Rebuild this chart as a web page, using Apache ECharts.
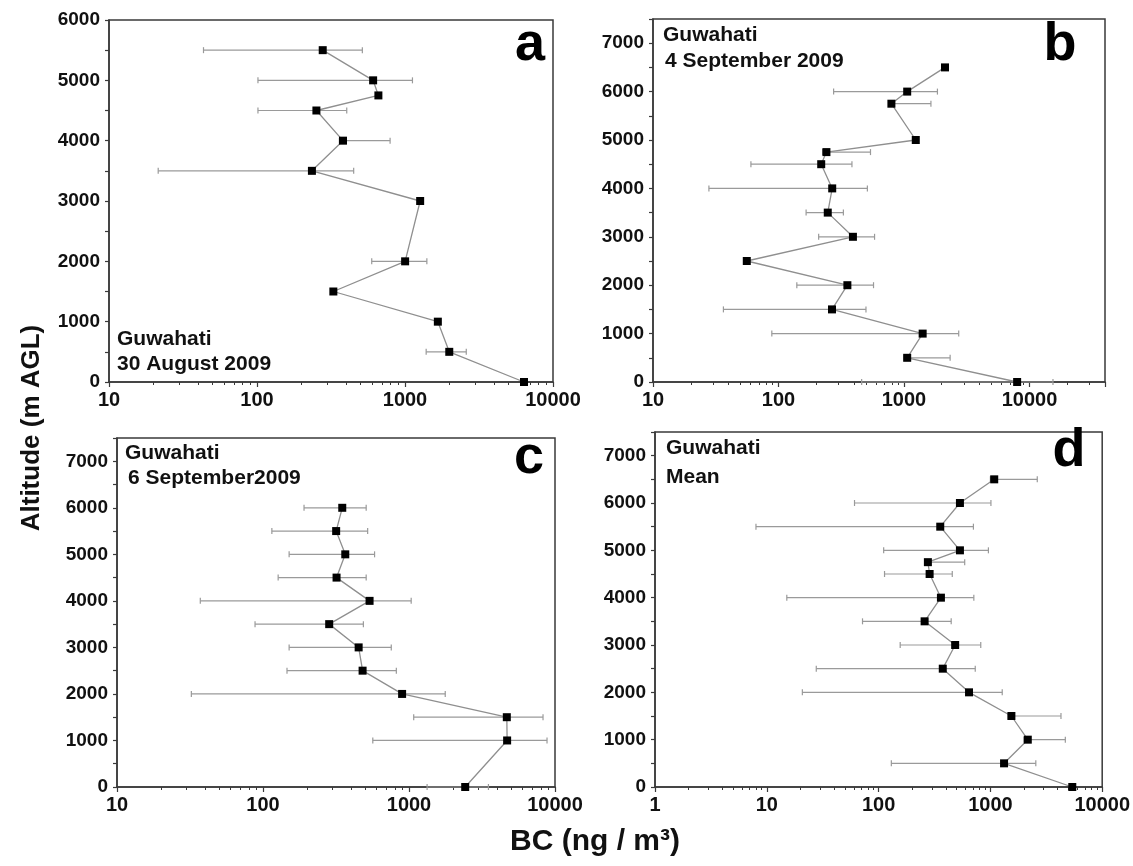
<!DOCTYPE html>
<html>
<head>
<meta charset="utf-8">
<title>Guwahati BC profiles</title>
<script src="https://cdn.jsdelivr.net/npm/echarts@6/dist/echarts.min.js"></script>
<style>
  html, body { margin: 0; padding: 0; background: #fff; }
  #main { width: 1133px; height: 866px; }
</style>
</head>
<body>
<div id="main"></div>
<script>
// panel a - 30 August 2009
var altA = [0, 500, 1000, 1500, 2000, 3000, 3500, 4000, 4500, 4750, 5000, 5500];
var bcA = [6368, 1991, 1667, 328, 1002, 1266, 235, 381, 252, 661, 609, 278];
var errAltA = [500, 2000, 3500, 4000, 4500, 5000, 5500];
var errLoA = [1390, 596, 21.5, 360, 101.5, 101.5, 43.5];
var errHiA = [2594, 1405, 450, 793, 404, 1123, 515];

// panel b - 4 September 2009
var altB = [0, 500, 1000, 1500, 2000, 2500, 3000, 3500, 4000, 4500, 4750, 5000, 5750, 6000, 6500];
var bcB = [7977, 1061, 1409, 267, 354, 55.9, 392, 247, 268, 219, 241, 1242, 794, 1061, 2123];
var errAltB = [0, 500, 1000, 1500, 2000, 3000, 3500, 4000, 4500, 4750, 5750, 6000];
var errLoB = [460, 1000, 88.5, 36.4, 140, 209, 166, 27.9, 60.3, 225, 760, 275];
var errHiB = [15400, 2333, 2731, 498, 572, 583, 329, 511, 385, 541, 1640, 1848];

// panel c - 6 September 2009
var altC = [0, 1000, 1500, 2000, 2500, 3000, 3500, 4000, 4500, 5000, 5500, 6000];
var bcC = [2426, 4700, 4677, 897, 481, 452, 284, 537, 319, 366, 317, 349];
var errAltC = [0, 1000, 1500, 2000, 2500, 3000, 3500, 4000, 4500, 5000, 5500, 6000];
var errLoC = [1330, 565, 1077, 32.3, 146, 151, 88.2, 37.2, 127, 151, 115, 191];
var errHiC = [3500, 8818, 8279, 1771, 819, 756, 487, 1035, 509, 581, 521, 509];

// panel d - mean
var altD = [0, 500, 1000, 1500, 2000, 2500, 3000, 3500, 4000, 4500, 4750, 5000, 5500, 6000, 6500];
var bcD = [5400, 1325, 2160, 1541, 644, 375, 484, 258, 361, 286, 276, 534, 356, 534, 1082];
var errAltD = [500, 1000, 1500, 2000, 2500, 3000, 3500, 4000, 4500, 4750, 5000, 5500, 6000, 6500];
var errLoD = [130, 2000, 1450, 20.8, 27.7, 156, 71.8, 15.1, 113, 260, 111, 8.0, 60.9, 1000];
var errHiD = [2548, 4680, 4279, 1276, 732, 820, 446, 711, 456, 589, 960, 705, 1011, 2626];

// axis ranges
var xMinA = 10, xMaxA = 10000, yMaxA = 6000;
var xMinB = 10, xMaxB = 40000, yMaxB = 7500;
var xMinC = 10, xMaxC = 10000, yMaxC = 7500;
var xMinD = 1, xMaxD = 10000, yMaxD = 7500;

var FONT = '"Liberation Sans", Arial, sans-serif';
var AXIS_COLOR = '#3a3a3a';

var chart = echarts.init(document.getElementById('main'), null, { renderer: 'canvas' });

function makeGrid(left, top, width, height) {
  return {
    left: left, top: top, width: width, height: height,
    show: true, borderColor: AXIS_COLOR, borderWidth: 1.5,
    containLabel: false
  };
}

function makeXAxis(idx, min, max) {
  return {
    type: 'log', logBase: 10, gridIndex: idx, min: min, max: max,
    axisLine: { show: true, lineStyle: { color: AXIS_COLOR, width: 1.5 } },
    axisTick: { show: true, length: 5, lineStyle: { color: AXIS_COLOR, width: 1.2 } },
    minorTick: { show: true, splitNumber: 9, length: 3, lineStyle: { color: AXIS_COLOR, width: 1 } },
    axisLabel: {
      fontSize: 20, fontWeight: 'bold', color: '#111', fontFamily: FONT, margin: 8,
      showMaxLabel: max === 40000 ? false : true,
      // no thousands separator, as in the original
      formatter: function (v) { return String(Math.round(v)); }
    },
    splitLine: { show: false }
  };
}

function makeYAxis(idx, max) {
  return {
    type: 'value', gridIndex: idx, min: 0, max: max, interval: 500,
    axisLine: { show: true, lineStyle: { color: AXIS_COLOR, width: 1.5 } },
    axisTick: { show: true, length: 4, interval: 0, lineStyle: { color: AXIS_COLOR, width: 1.2 } },
    axisLabel: {
      interval: 0, fontSize: 19, fontWeight: 'bold', color: '#111', fontFamily: FONT, margin: 9,
      formatter: function (v) { return v % 1000 === 0 ? String(v) : ''; }
    },
    splitLine: { show: false }
  };
}

// profile line with square markers
function makeLine(idx, bc, alt) {
  var pts = [];
  for (var i = 0; i < bc.length; i++) pts.push([bc[i], alt[i]]);
  return {
    type: 'line', xAxisIndex: idx, yAxisIndex: idx, data: pts,
    symbol: 'rect', symbolSize: 8, showSymbol: true,
    itemStyle: { color: '#000' },
    lineStyle: { color: '#8f8f8f', width: 1.3 },
    z: 3, silent: true, animation: false
  };
}

// horizontal error bars (custom series)
function makeErr(idx, alt, lo, hi) {
  var rows = [];
  for (var i = 0; i < alt.length; i++) rows.push([alt[i], lo[i], hi[i]]);
  return {
    type: 'custom', xAxisIndex: idx, yAxisIndex: idx, data: rows,
    encode: { x: [1, 2], y: 0 },
    z: 2, silent: true, animation: false,
    renderItem: function (params, api) {
      var y = api.value(0);
      var p1 = api.coord([api.value(1), y]);
      var p2 = api.coord([api.value(2), y]);
      var cap = 3;
      var st = { stroke: '#9a9a9a', lineWidth: 1.2 };
      return {
        type: 'group',
        children: [
          { type: 'line', shape: { x1: p1[0], y1: p1[1], x2: p2[0], y2: p2[1] }, style: st },
          { type: 'line', shape: { x1: p1[0], y1: p1[1] - cap, x2: p1[0], y2: p1[1] + cap }, style: st },
          { type: 'line', shape: { x1: p2[0], y1: p2[1] - cap, x2: p2[0], y2: p2[1] + cap }, style: st }
        ]
      };
    }
  };
}

function txt(left, top, text, size, align) {
  return {
    type: 'text', left: left, top: top, z: 10, silent: true,
    style: {
      text: text, fill: '#111', font: 'bold ' + size + 'px ' + FONT,
      textAlign: align || 'left', textVerticalAlign: 'top'
    }
  };
}

var option = {
  backgroundColor: '#fff',
  animation: false,
  grid: [
    makeGrid(109, 20, 444, 362),
    makeGrid(653, 19, 452, 363),
    makeGrid(117, 438, 438, 349),
    makeGrid(655, 432, 450, 355)
  ],
  xAxis: [
    makeXAxis(0, xMinA, xMaxA),
    makeXAxis(1, xMinB, xMaxB),
    makeXAxis(2, xMinC, xMaxC),
    makeXAxis(3, xMinD, xMaxD)
  ],
  yAxis: [
    makeYAxis(0, yMaxA),
    makeYAxis(1, yMaxB),
    makeYAxis(2, yMaxC),
    makeYAxis(3, yMaxD)
  ],
  series: [
    makeErr(0, errAltA, errLoA, errHiA), makeLine(0, bcA, altA),
    makeErr(1, errAltB, errLoB, errHiB), makeLine(1, bcB, altB),
    makeErr(2, errAltC, errLoC, errHiC), makeLine(2, bcC, altC),
    makeErr(3, errAltD, errLoD, errHiD), makeLine(3, bcD, altD)
  ],
  graphic: [
    // panel letters
    { type: 'text', x: 530, y: 72, z: 10, silent: true,
      style: { text: 'a', fill: '#000', font: 'bold 54px ' + FONT, textAlign: 'center', textVerticalAlign: 'bottom' } },
    { type: 'text', x: 1060, y: 72, z: 10, silent: true,
      style: { text: 'b', fill: '#000', font: 'bold 54px ' + FONT, textAlign: 'center', textVerticalAlign: 'bottom' } },
    { type: 'text', x: 529, y: 485, z: 10, silent: true,
      style: { text: 'c', fill: '#000', font: 'bold 54px ' + FONT, textAlign: 'center', textVerticalAlign: 'bottom' } },
    { type: 'text', x: 1069, y: 478, z: 10, silent: true,
      style: { text: 'd', fill: '#000', font: 'bold 54px ' + FONT, textAlign: 'center', textVerticalAlign: 'bottom' } },
    // site / date notes
    txt(117, 329, 'Guwahati', 21),
    txt(117, 354, '30 August 2009', 21),
    txt(663, 25, 'Guwahati', 21),
    txt(665, 51, '4 September 2009', 21),
    txt(125, 443, 'Guwahati', 21),
    txt(128, 468, '6 September2009', 21),
    txt(666, 438, 'Guwahati', 21),
    txt(666, 467, 'Mean', 21),
    // axis titles
    { type: 'text', x: 32, y: 428, rotation: Math.PI / 2, z: 10, silent: true,
      style: { text: 'Altitude (m AGL)', fill: '#111', font: 'bold 26px ' + FONT, textAlign: 'center', textVerticalAlign: 'middle' } },
    { type: 'text', x: 595, y: 842, z: 10, silent: true,
      style: { text: 'BC (ng / m³)', fill: '#111', font: 'bold 30px ' + FONT, textAlign: 'center', textVerticalAlign: 'middle' } }
  ]
};

chart.setOption(option);
</script>
</body>
</html>
